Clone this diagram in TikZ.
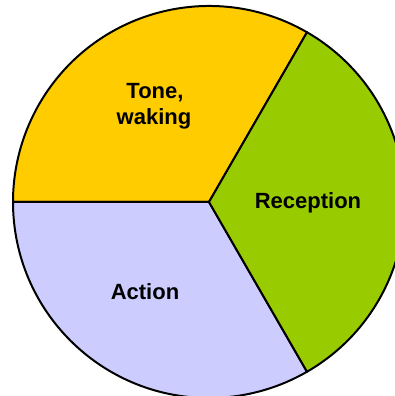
\documentclass[tikz,border=0pt]{standalone}
\usepackage{fontspec}
\setmainfont{Liberation Sans}
\definecolor{toneyellow}{HTML}{FFCC00}
\definecolor{recgreen}{HTML}{99CC00}
\definecolor{actlav}{HTML}{CCCCFF}
\begin{document}
\begin{tikzpicture}[x=1pt,y=1pt,
  sector/.style={draw=black,line width=2pt,line join=round},
  lbl/.style={font=\fontsize{22}{27}\selectfont\bfseries,inner sep=0pt,anchor=base}]
\useasboundingbox (0,0) rectangle (395,396);
\fill[white] (0,0) rectangle (395,396);
\clip (0,0) rectangle (395,396);
\coordinate (c) at (209,194);
\filldraw[sector,fill=toneyellow] (c) -- ++(60:196pt) arc[start angle=60,end angle=180,radius=196pt] -- cycle;
\filldraw[sector,fill=actlav] (c) -- ++(180:196pt) arc[start angle=180,end angle=300,radius=196pt] -- cycle;
\filldraw[sector,fill=recgreen] (c) -- ++(-60:196pt) arc[start angle=-60,end angle=60,radius=196pt] -- cycle;
\node[lbl] (tone) at (155,297.7) {Tone,};
\node[lbl] (waking) at (154,271) {waking};
\node[lbl] (reception) at (308,187.7) {Reception};
\node[lbl] (action) at (145,96.7) {Action};
\end{tikzpicture}
\end{document}
